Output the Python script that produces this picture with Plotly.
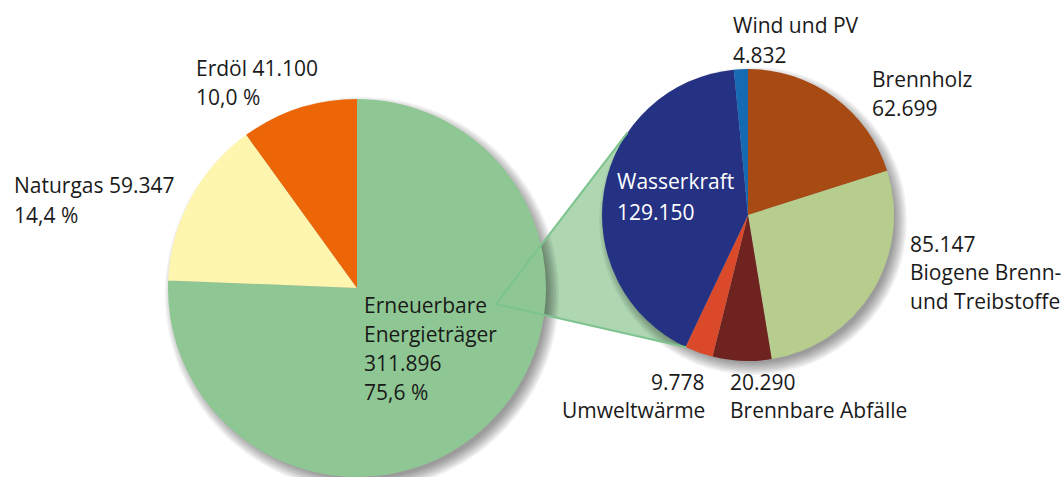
import math
import plotly.graph_objects as go

# ---- data ----
main_labels = ["Erneuerbare Energieträger", "Naturgas", "Erdöl"]
main_values = [311.896, 59.347, 41.100]
main_value_text = ["311.896", "59.347", "41.100"]
main_pct = ["75,6 %", "14,4 %", "10,0 %"]

ren_labels = ["Brennholz", "Biogene Brenn- und Treibstoffe", "Brennbare Abfälle",
              "Umweltwärme", "Wasserkraft", "Wind und PV"]
ren_values = [62.699, 85.147, 20.290, 9.778, 129.150, 4.832]
ren_value_text = ["62.699", "85.147", "20.290", "9.778", "129.150", "4.832"]

main_colors = ["#8EC793", "#FEF5AE", "#EC6608"]
ren_colors = ["#A84A14", "#B7CD8D", "#6E2320", "#DA4A2A", "#253284", "#1669B3"]

W, H = 1063, 477
FONT = "Open Sans"
FS = 21

def px(x):
    return x / W

def py(y):
    return 1 - y / H

# pie geometry (pixels)
L_cx, L_cy, L_r = 357, 288, 189
R_cx, R_cy, R_r = 748, 215, 146

fig = go.Figure()
fig.add_trace(go.Pie(
    labels=main_labels, values=main_values, sort=False, direction="clockwise",
    rotation=0, textinfo="none", hoverinfo="label+value",
    marker=dict(colors=main_colors, line=dict(width=0)),
    domain=dict(x=[px(L_cx - L_r), px(L_cx + L_r)], y=[py(L_cy + L_r), py(L_cy - L_r)]),
    showlegend=False,
))
fig.add_trace(go.Pie(
    labels=ren_labels, values=ren_values, sort=False, direction="clockwise",
    rotation=0, textinfo="none", hoverinfo="label+value",
    marker=dict(colors=ren_colors, line=dict(width=0)),
    domain=dict(x=[px(R_cx - R_r), px(R_cx + R_r)], y=[py(R_cy + R_r), py(R_cy - R_r)]),
    showlegend=False,
))

shapes = []
# connector triangle
vx, vy = 496, 304
a_top, a_bot = math.radians(145.5), math.radians(245.0)
tx, ty = R_cx + R_r * math.cos(a_top), R_cy - R_r * math.sin(a_top)
bx, by = R_cx + R_r * math.cos(a_bot), R_cy - R_r * math.sin(a_bot)
tri = f"M {px(tx)},{py(ty)} L {px(vx)},{py(vy)} L {px(bx)},{py(by)} Z"
shapes.append(dict(type="path", xref="paper", yref="paper", path=tri,
                   fillcolor="#ADD6B1", line=dict(width=0), layer="below"))

# soft drop shadows (offset to bottom-right)
def shadow(cx, cy, r):
    out = []
    for k in range(9):
        rr = r - 4 + 1.5 * k
        out.append(dict(type="circle", xref="paper", yref="paper",
                        x0=px(cx + 5 - rr), x1=px(cx + 5 + rr),
                        y0=py(cy + 6 + rr), y1=py(cy + 6 - rr),
                        fillcolor="rgba(0,0,0,0.05)", line=dict(width=0), layer="below"))
    return out

shapes += shadow(L_cx, L_cy, L_r)
shapes += shadow(R_cx, R_cy, R_r)

shapes.append(dict(type="path", xref="paper", yref="paper",
                   path=f"M {px(tx)},{py(ty)} L {px(vx)},{py(vy)} L {px(bx)},{py(by)}",
                   line=dict(color="#7CC38D", width=2), layer="above"))

annotations = []

def label(lines, x, baselines, anchor="left", color="#1a1a1a"):
    for t, b in zip(lines, baselines):
        annotations.append(dict(text=t, x=px(x), y=py(b - 7), xref="paper", yref="paper",
                                xanchor=anchor, yanchor="middle", showarrow=False,
                                font=dict(family=FONT, size=FS, color=color)))

label([f"Erdöl {main_value_text[2]}", main_pct[2]], 194, [75, 104])
label([f"Naturgas {main_value_text[1]}", main_pct[1]], 12, [192, 222])
label(["Erneuerbare", "Energieträger", main_value_text[0], main_pct[0]], 362, [312, 341, 370, 399])
label(["Wasserkraft", ren_value_text[4]], 615, [188, 219], color="white")
label(["Wind und PV", ren_value_text[5]], 731, [32, 62])
label(["Brennholz", ren_value_text[0]], 870, [86, 115])
label([ren_value_text[1], "Biogene Brenn-", "und Treibstoffe"], 908, [251, 279, 308])
label([ren_value_text[3], "Umweltwärme"], 707, [389, 417], anchor="right")
label([ren_value_text[2], "Brennbare Abfälle"], 728, [389, 417])

fig.update_layout(
    width=W, height=H, margin=dict(l=0, r=0, t=0, b=0),
    paper_bgcolor="white", plot_bgcolor="white",
    shapes=shapes, annotations=annotations,
)
fig.write_html("out.html", config={"displayModeBar": False},
               post_script="document.body.style.margin='0';document.body.style.overflow='hidden';")
